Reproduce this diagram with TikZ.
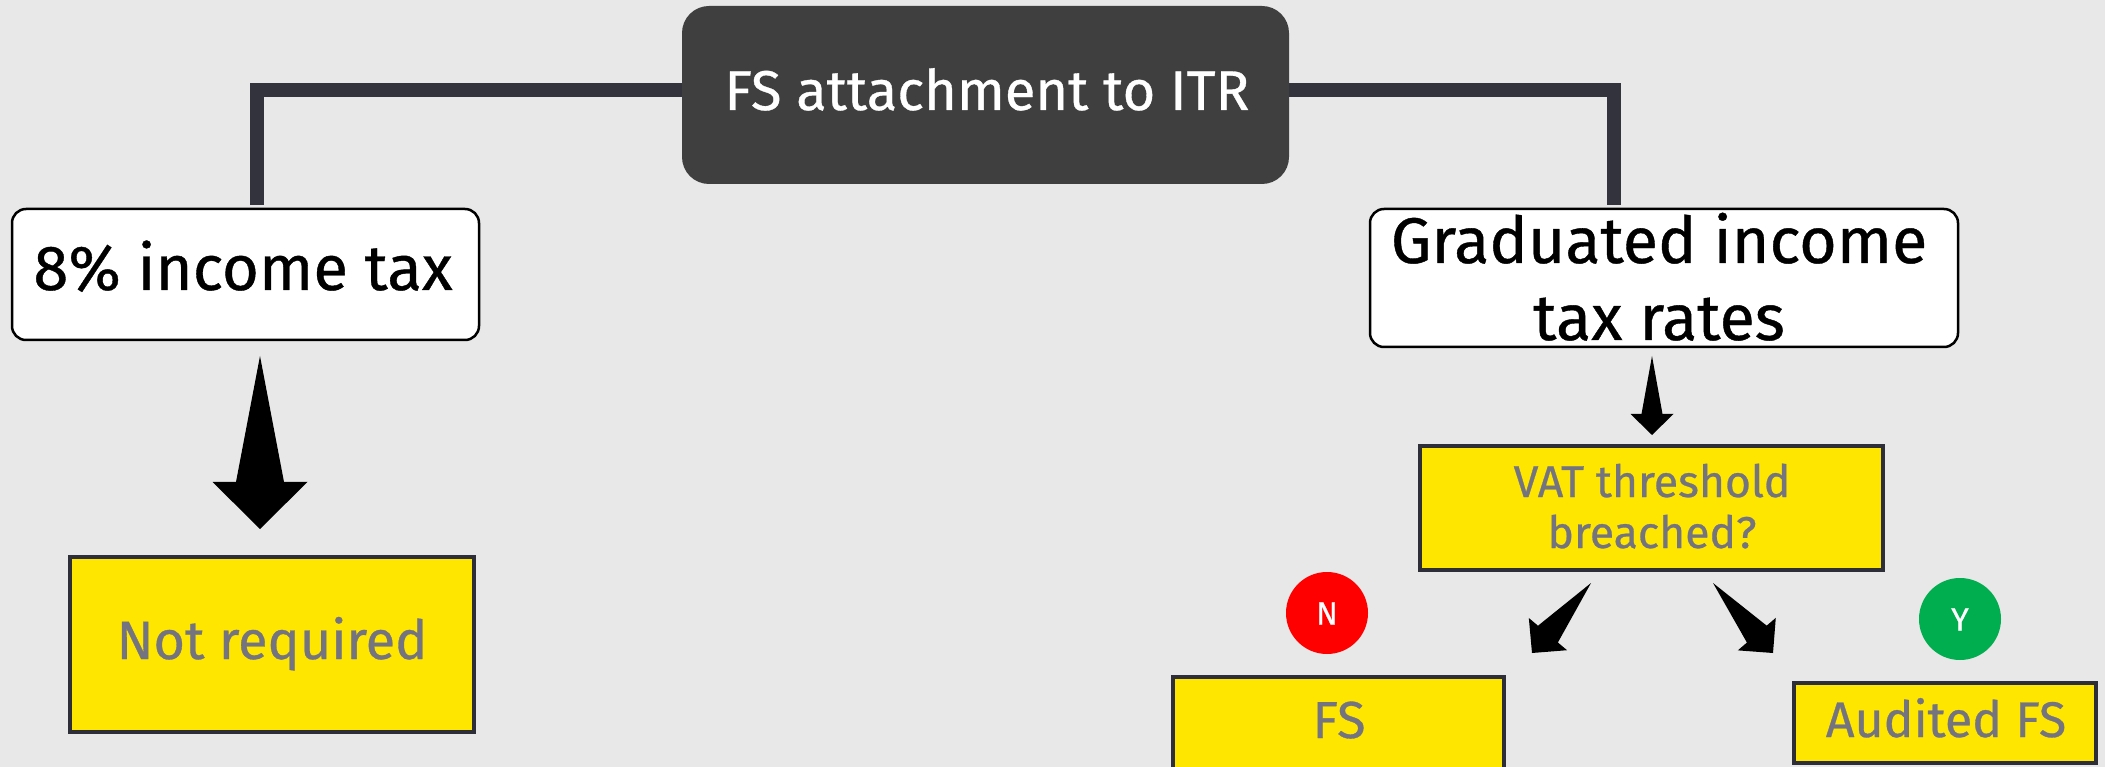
\documentclass[tikz,border=0pt]{standalone}
\usepackage{fontspec}
\setmainfont{Fira Sans}[FakeBold=0.6]
\usetikzlibrary{calc}
\definecolor{bg}{HTML}{E8E8E8}
\definecolor{eyyellow}{HTML}{FFE600}
\definecolor{ybord}{HTML}{2E2E38}
\definecolor{eygrey}{HTML}{747480}
\definecolor{darkbox}{HTML}{3F3F3F}
\definecolor{barc}{HTML}{33333D}
\definecolor{nred}{HTML}{FF0000}
\definecolor{ygreen}{HTML}{00AD4F}
\newcommand{\blockarrow}[5]{%
  \fill[black] (#1) -- ($(#1)!#3!(#2)!#4!90:(#2)$) -- ($(#1)!#3!(#2)!#5!90:(#2)$) -- (#2)
   -- ($(#1)!#3!(#2)!#5!-90:(#2)$) -- ($(#1)!#3!(#2)!#4!-90:(#2)$) -- cycle;}
\begin{document}
\begin{tikzpicture}[x=1pt,y=-1pt,
  txt/.style={inner sep=0pt, anchor=base},
  wbox/.style={draw=black, line width=2.5pt, fill=white, rounded corners=14pt, inner sep=0pt},
  ybox/.style={draw=ybord, line width=4pt, fill=eyyellow, inner sep=0pt},
  dbox/.style={fill=darkbox, rounded corners=27pt, inner sep=0pt},
  bar/.style={draw=barc, line width=14pt},
  circ/.style={circle, minimum size=82pt, inner sep=0pt, text=white}]
\fill[bg] (0,0) rectangle (2105,767);
\useasboundingbox (0,0) rectangle (2105,767);
\clip (0,0) rectangle (2105,767);

% bar connectors
\coordinate (lend) at (257,205);
\coordinate (rend) at (1614,205);
\coordinate (topl) at (690,90);
\coordinate (topr) at (1280,90);
\draw[bar] (topl) -| (lend);
\draw[bar] (topr) -| (rend);

% boxes
\node[dbox, minimum width=607pt, minimum height=178pt] (top) at (985.5,95) {};
\node[wbox, minimum width=467pt, minimum height=131pt] (eight) at (245.5,274.5) {};
\node[wbox, minimum width=588pt, minimum height=138pt] (grad) at (1664,278) {};
\node[ybox, minimum width=404pt, minimum height=175pt] (notreq) at (272,644.5) {};
\node[ybox, minimum width=463pt, minimum height=124pt] (vat) at (1651.5,508) {};
\node[ybox, minimum width=331pt, minimum height=153pt] (fs) at (1338.5,753.5) {};
\node[ybox, minimum width=302pt, minimum height=80pt] (aud) at (1945,723) {};
\node[circ, fill=nred] (n) at (1327,613) {};
\node[circ, fill=ygreen] (y) at (1960,619) {};

% texts
\node[txt, text=white] (ttop) at (987,110) {\fontsize{56}{67}\selectfont FS attachment to ITR};
\node[txt] (t8) at (243,290) {\fontsize{63.5}{76}\selectfont 8\% income tax};
\node[txt] (tg1) at (1659,263) {\fontsize{64.5}{77}\selectfont Graduated income};
\node[txt] (tg2) at (1659,340) {\fontsize{64.5}{77}\selectfont tax rates};
\node[txt, text=eygrey] (tnr) at (272,659) {\fontsize{54}{65}\selectfont Not required};
\node[txt, text=eygrey] (tv1) at (1652,497) {\fontsize{44.5}{53}\selectfont VAT threshold};
\node[txt, text=eygrey] (tv2) at (1652,548) {\fontsize{44.5}{53}\selectfont breached?};
\node[txt, text=eygrey] (tfs) at (1339,738) {\fontsize{52}{62}\selectfont FS};
\node[txt, text=eygrey] (tau) at (1946,737) {\fontsize{50}{60}\selectfont Audited FS};
\node[txt, text=white] at ([yshift=-11.5pt]n.center) {\fontsize{32}{38}\selectfont N};
\node[txt, text=white] at ([yshift=-11.5pt]y.center) {\fontsize{32}{38}\selectfont Y};

% block arrows
\coordinate (a1s) at (260,356); \coordinate (a1e) at (260,529);
\coordinate (a2s) at (1652,356); \coordinate (a2e) at (1652,435);
\coordinate (a3s) at (1591,583); \coordinate (a3e) at (1532,653);
\coordinate (a4s) at (1713,583); \coordinate (a4e) at (1773,653);
\blockarrow{a1s}{a1e}{0.728}{24pt}{47.5pt}
\blockarrow{a2s}{a2e}{0.734}{10.5pt}{21.5pt}
\blockarrow{a3s}{a3e}{0.73}{13pt}{25pt}
\blockarrow{a4s}{a4e}{0.73}{13pt}{25pt}
\end{tikzpicture}
\end{document}
